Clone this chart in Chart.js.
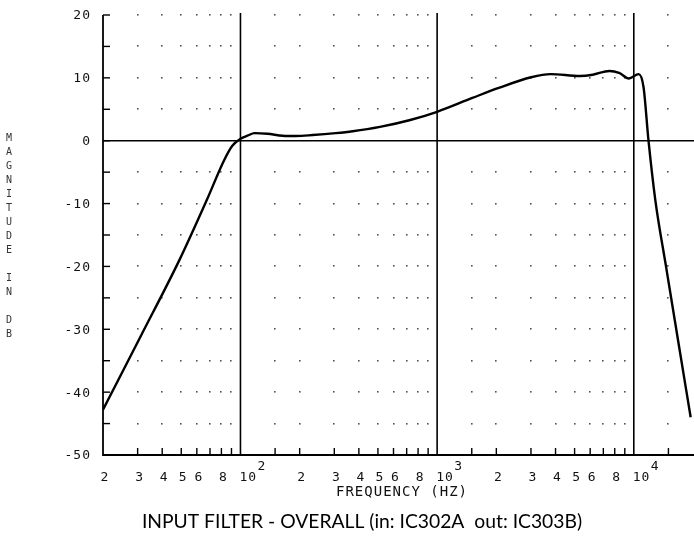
<!DOCTYPE html>
<html>
<head>
<meta charset="utf-8">
<script src="https://cdn.jsdelivr.net/npm/chart.js@4.4.1/dist/chart.umd.min.js"></script>
<style>
    html, body { margin: 0; padding: 0; background: #fff; }
    #wrap { width: 694px; height: 542px; position: relative; }
</style>
</head>
<body>
<div id="wrap"><canvas id="plot"></canvas></div>
<script>
// Curve: frequency (Hz) and magnitude (dB)
const freqHz = [20, 31.1, 48.9, 67.5, 82.6, 90.9, 100, 108.6, 118, 137, 164, 191, 233, 305, 372, 512, 730,
    1000, 1510, 2056, 3006, 3776, 5320, 6180, 7515, 8420, 9440, 10590, 11210, 11880, 12860, 14580, 16740, 19460];
const magDb = [-42.8, -31.1, -19.0, -9.4, -3.1, -0.8, 0.3, 0.8, 1.2, 1.1, 0.8, 0.75, 0.9, 1.2, 1.5, 2.2, 3.3,
    4.6, 6.8, 8.4, 10.1, 10.6, 10.3, 10.5, 11.1, 10.8, 9.9, 10.6, 8.5, 0, -9.4, -20.0, -31.5, -44.0];

// Axis furniture
const minorFreqs = [30, 40, 50, 60, 70, 80, 90, 150, 200, 300, 400, 500, 600, 700, 800, 900,
    1500, 2000, 3000, 4000, 5000, 6000, 7000, 8000, 9000, 15000];
const decadeFreqs = [100, 1000, 10000];
const decadeExponents = ['2', '3', '4'];
const xLabelValues = [20, 30, 40, 50, 60, 80, 200, 300, 400, 500, 600, 800, 2000, 3000, 4000, 5000, 6000, 8000];
const xLabelText = ['2', '3', '4', '5', '6', '8', '2', '3', '4', '5', '6', '8', '2', '3', '4', '5', '6', '8'];
const yTickValues = [20, 15, 10, 5, 0, -5, -10, -15, -20, -25, -30, -35, -40, -45, -50];
const yLabelValues = [20, 10, 0, -10, -20, -30, -40, -50];
const dotDb = [20, 15, 10, 5, -5, -10, -15, -20, -25, -30, -35, -40, -45];

const xAxisTitle = 'FREQUENCY (HZ)';
const yAxisTitle = 'MAGNITUDE IN DB';
const caption = 'INPUT FILTER - OVERALL (in: IC302A  out: IC303B)';

const MONO = '"DejaVu Sans Mono", "Liberation Mono", monospace';

const plotterFrame = {
    id: 'plotterFrame',

    beforeDatasetsDraw(chart) {
        const { ctx, chartArea: a, scales: { x, y } } = chart;
        ctx.save();

        // dotted grid
        ctx.fillStyle = '#555';
        minorFreqs.forEach(f => {
            const px = x.getPixelForValue(f);
            dotDb.forEach(d => {
                ctx.fillRect(Math.round(px) - 1, Math.round(y.getPixelForValue(d)) - 1, 1.6, 1.6);
            });
        });

        ctx.strokeStyle = '#000';
        ctx.lineCap = 'butt';

        // decade lines
        ctx.lineWidth = 1.6;
        decadeFreqs.forEach(f => {
            const px = x.getPixelForValue(f);
            ctx.beginPath();
            ctx.moveTo(px, a.top - 2);
            ctx.lineTo(px, a.bottom);
            ctx.stroke();
        });

        // zero line
        ctx.lineWidth = 1.4;
        const y0 = y.getPixelForValue(0);
        ctx.beginPath();
        ctx.moveTo(a.left, y0);
        ctx.lineTo(a.right + 2, y0);
        ctx.stroke();

        // left and bottom axis
        ctx.lineWidth = 1.8;
        ctx.beginPath();
        ctx.moveTo(a.left, a.top);
        ctx.lineTo(a.left, a.bottom);
        ctx.lineTo(a.right + 2, a.bottom);
        ctx.stroke();

        // y ticks
        ctx.lineWidth = 1.4;
        yTickValues.forEach(v => {
            const py = y.getPixelForValue(v);
            ctx.beginPath();
            ctx.moveTo(a.left, py);
            ctx.lineTo(a.left + 7, py);
            ctx.stroke();
        });

        // x ticks
        minorFreqs.forEach(f => {
            const px = x.getPixelForValue(f);
            ctx.beginPath();
            ctx.moveTo(px, a.bottom);
            ctx.lineTo(px, a.bottom - 7);
            ctx.stroke();
        });

        ctx.restore();
    },

    afterDraw(chart) {
        const { ctx, chartArea: a, scales: { x, y } } = chart;
        ctx.save();
        ctx.fillStyle = '#111';
        ctx.font = '13px ' + MONO;
        ctx.letterSpacing = '1px';
        ctx.textBaseline = 'middle';

        // y labels
        ctx.textAlign = 'right';
        yLabelValues.forEach(v => {
            ctx.fillText(String(v), a.left - 12, y.getPixelForValue(v) + 1);
        });

        // x labels
        const labelY = a.bottom + 23;
        ctx.textAlign = 'center';
        xLabelValues.forEach((v, i) => {
            ctx.fillText(xLabelText[i], x.getPixelForValue(v) + 2, labelY);
        });
        ctx.textAlign = 'left';
        decadeFreqs.forEach((f, i) => {
            const px = x.getPixelForValue(f);
            ctx.fillText('10', px - 1, labelY);
            ctx.fillText(decadeExponents[i], px + 17, labelY - 11);
        });

        // axis title
        ctx.font = '14px ' + MONO;
        ctx.textAlign = 'center';
        ctx.fillText(xAxisTitle, 402, a.bottom + 37);

        // vertical stacked y title
        ctx.font = '10px ' + MONO;
        ctx.letterSpacing = '0px';
        ctx.fillStyle = '#333';
        [...yAxisTitle].forEach((ch, i) => {
            ctx.fillText(ch, 9, 138 + i * 14);
        });

        // caption
        ctx.fillStyle = '#000';
        ctx.font = '19.3px Lato, "Open Sans", sans-serif';
        ctx.fillText(caption, 362, a.bottom + 67);

        ctx.restore();
    }
};

new Chart(document.getElementById('plot'), {
    type: 'line',
    data: {
        datasets: [{
            data: freqHz.map((f, i) => ({ x: f, y: magDb[i] })),
            borderColor: '#000',
            borderWidth: 2.4,
            pointRadius: 0,
            fill: false,
            cubicInterpolationMode: 'monotone'
        }]
    },
    options: {
        responsive: true,
        maintainAspectRatio: false,
        animation: false,
        events: [],
        layout: { padding: { left: 103, right: 1, top: 15, bottom: 87 } },
        scales: {
            x: { type: 'logarithmic', min: 20, max: 20000, display: false },
            y: { type: 'linear', min: -50, max: 20, display: false }
        },
        plugins: {
            legend: { display: false },
            tooltip: { enabled: false }
        }
    },
    plugins: [plotterFrame]
});
</script>
</body>
</html>
